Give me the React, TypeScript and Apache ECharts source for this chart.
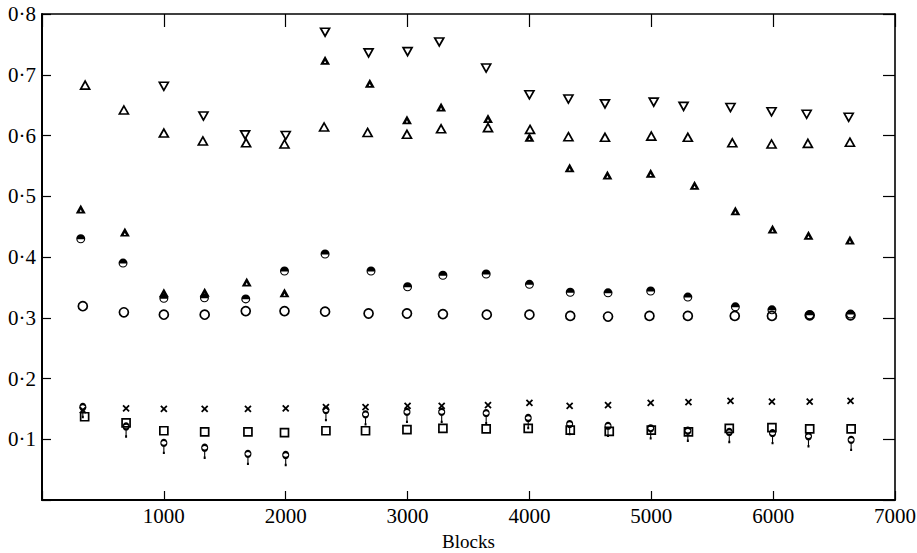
import React, { useEffect, useRef } from "react";
import * as echarts from "echarts";

// ---- data ----
const xTickValues = [1000, 2000, 3000, 4000, 5000, 6000, 7000];
const yTickValues = [0.1, 0.2, 0.3, 0.4, 0.5, 0.6, 0.7, 0.8];

const downTriX = [1000, 1325, 1667, 2000, 2323, 2680, 3000, 3260, 3645, 4000, 4320, 4620, 5020, 5265, 5650, 5987, 6275, 6620];
const downTriY = [0.681, 0.632, 0.601, 0.600, 0.770, 0.736, 0.738, 0.754, 0.711, 0.667, 0.660, 0.652, 0.655, 0.648, 0.646, 0.639, 0.635, 0.630];

const upTriX = [354, 672, 1000, 1320, 1675, 1990, 2315, 2672, 2995, 3275, 3660, 4005, 4320, 4620, 5000, 5300, 5665, 5987, 6285, 6630];
const upTriY = [0.683, 0.642, 0.604, 0.591, 0.588, 0.586, 0.614, 0.605, 0.602, 0.611, 0.613, 0.610, 0.598, 0.597, 0.599, 0.597, 0.588, 0.586, 0.587, 0.589];

const halfTriX = [318, 680, 1000, 1335, 1680, 1990, 2323, 2690, 2995, 3275, 3660, 4000, 4330, 4640, 4995, 5355, 5690, 5995, 6290, 6630];
const halfTriY = [0.479, 0.441, 0.341, 0.342, 0.359, 0.341, 0.724, 0.686, 0.626, 0.647, 0.628, 0.597, 0.547, 0.535, 0.538, 0.518, 0.476, 0.446, 0.436, 0.428];

const halfCircX = [318, 665, 1000, 1333, 1672, 1990, 2323, 2700, 3000, 3290, 3645, 4000, 4335, 4645, 4995, 5300, 5690, 5990, 6300, 6635];
const halfCircY = [0.430, 0.390, 0.332, 0.333, 0.331, 0.377, 0.405, 0.377, 0.351, 0.370, 0.372, 0.355, 0.342, 0.341, 0.344, 0.334, 0.318, 0.313, 0.305, 0.306];

const openCircX = [335, 672, 1000, 1335, 1672, 1990, 2323, 2680, 2995, 3290, 3650, 4000, 4335, 4645, 4985, 5300, 5685, 5990, 6300, 6635];
const openCircY = [0.319, 0.309, 0.305, 0.305, 0.311, 0.311, 0.310, 0.307, 0.307, 0.306, 0.305, 0.305, 0.303, 0.302, 0.303, 0.303, 0.303, 0.303, 0.304, 0.304];

const crossX = [335, 690, 1000, 1335, 1690, 2000, 2330, 2655, 3000, 3280, 3660, 4000, 4330, 4645, 4995, 5305, 5650, 5990, 6300, 6635];
const crossY = [0.148, 0.151, 0.150, 0.150, 0.150, 0.151, 0.153, 0.153, 0.155, 0.155, 0.156, 0.160, 0.155, 0.156, 0.160, 0.161, 0.163, 0.162, 0.162, 0.163];

const squareX = [350, 690, 1000, 1335, 1690, 1990, 2330, 2655, 2995, 3290, 3645, 3990, 4335, 4655, 5000, 5305, 5640, 5990, 6300, 6640];
const squareY = [0.137, 0.127, 0.114, 0.112, 0.112, 0.111, 0.114, 0.114, 0.116, 0.118, 0.117, 0.118, 0.115, 0.113, 0.115, 0.112, 0.118, 0.119, 0.117, 0.117];

const pinX = [335, 690, 1000, 1335, 1690, 2000, 2330, 2655, 2995, 3280, 3645, 3990, 4330, 4645, 4995, 5300, 5640, 5995, 6290, 6640];
const pinY = [0.153, 0.121, 0.094, 0.086, 0.076, 0.074, 0.148, 0.141, 0.145, 0.145, 0.143, 0.135, 0.125, 0.122, 0.118, 0.114, 0.112, 0.110, 0.105, 0.099];

// ---- helpers ----
const pairs = (xs: number[], ys: number[]) => xs.map((x, i) => [x, ys[i]]);

const FONT = "Liberation Serif, Times New Roman, serif";
const BLACK = "#000";

const HALF_TRI = "path://M0,10L5,0L10,10Z M5,5.6L3.9,8.1L6.1,8.1Z";
const HALF_CIRC =
  "path://M0,5A5,5 0 1 1 10,5A5,5 0 1 1 0,5Z M8.75,5.5L1.25,5.5A3.78,3.78 0 0 0 8.75,5.5Z";
const CROSS = "path://M0,0L10,10M10,0L0,10";
const PIN = "path://M2,4A3,3 0 1 1 8,4A3,3 0 1 1 2,4Z M5,7L5,14 M4,14L6,14";

const openStyle = { color: "rgba(0,0,0,0)", borderColor: BLACK, borderWidth: 1.7, opacity: 1 };

export default function App() {
  const ref = useRef<HTMLDivElement>(null);

  useEffect(() => {
    if (!ref.current) return;
    const chart = echarts.init(ref.current, undefined, { renderer: "svg" });

    const yFmt = (v: number) => {
      const r = Math.round(v * 10) / 10;
      if (!yTickValues.includes(r)) return "";
      return r.toFixed(1).replace(".", "·");
    };
    const xFmt = (v: number) => (xTickValues.includes(v) ? String(v) : "");

    const option: any = {
      animation: false,
      backgroundColor: "#fff",
      grid: {
        left: 42,
        right: 22,
        top: 14,
        bottom: 53,
        containLabel: false,
        outerBoundsMode: "none",
      },
      xAxis: [
        {
          type: "value",
          position: "bottom",
          min: 0,
          max: 7000,
          interval: 1000,
          splitLine: { show: false },
          axisLine: { onZero: false, lineStyle: { color: BLACK, width: 2 } },
          axisTick: { inside: true, length: 9, lineStyle: { color: BLACK, width: 1.2 } },
          axisLabel: {
            formatter: xFmt,
            color: BLACK,
            fontFamily: FONT,
            fontSize: 21,
            margin: 5,
            showMaxLabel: true,
          },
          name: "Blocks",
          nameLocation: "middle",
          nameGap: 32,
          nameTextStyle: { color: BLACK, fontFamily: FONT, fontSize: 19 },
        },
        {
          type: "value",
          position: "top",
          min: 0,
          max: 7000,
          interval: 1000,
          splitLine: { show: false },
          axisLine: { onZero: false, lineStyle: { color: BLACK, width: 1.6 } },
          axisTick: { inside: true, length: 13, lineStyle: { color: BLACK, width: 1.2 } },
          axisLabel: { show: false },
        },
      ],
      yAxis: [
        {
          type: "value",
          position: "left",
          min: 0,
          max: 0.8,
          interval: 0.1,
          splitLine: { show: false },
          axisLine: { onZero: false, lineStyle: { color: BLACK, width: 2 } },
          axisTick: { inside: true, length: 9, lineStyle: { color: BLACK, width: 1.2 } },
          axisLabel: {
            formatter: yFmt,
            color: BLACK,
            fontFamily: FONT,
            fontSize: 21,
            margin: 6,
            showMaxLabel: true,
          },
        },
        {
          type: "value",
          position: "right",
          min: 0,
          max: 0.8,
          interval: 0.1,
          splitLine: { show: false },
          axisLine: { onZero: false, lineStyle: { color: BLACK, width: 1.6 } },
          axisTick: { inside: true, length: 12, lineStyle: { color: BLACK, width: 1.2 } },
          axisLabel: { show: false },
        },
      ],
      series: [
        {
          name: "open circle",
          type: "scatter",
          data: pairs(openCircX, openCircY),
          symbol: "circle",
          symbolSize: 9,
          itemStyle: openStyle,
        },
        {
          name: "square",
          type: "scatter",
          data: pairs(squareX, squareY),
          symbol: "rect",
          symbolSize: 8,
          itemStyle: openStyle,
        },
        {
          name: "down triangle",
          type: "scatter",
          data: pairs(downTriX, downTriY),
          symbol: "triangle",
          symbolRotate: 180,
          symbolSize: [9, 8],
          itemStyle: openStyle,
        },
        {
          name: "up triangle",
          type: "scatter",
          data: pairs(upTriX, upTriY),
          symbol: "triangle",
          symbolSize: [9, 8],
          itemStyle: openStyle,
        },
        {
          name: "half triangle",
          type: "scatter",
          data: pairs(halfTriX, halfTriY),
          symbol: HALF_TRI,
          symbolSize: [10, 9],
          itemStyle: { color: BLACK, borderWidth: 0, opacity: 1 },
        },
        {
          name: "half circle",
          type: "scatter",
          data: pairs(halfCircX, halfCircY),
          symbol: HALF_CIRC,
          symbolSize: 9,
          itemStyle: { color: BLACK, borderWidth: 0, opacity: 1 },
        },
        {
          name: "cross",
          type: "scatter",
          data: pairs(crossX, crossY),
          symbol: CROSS,
          symbolSize: 6,
          itemStyle: { color: "rgba(0,0,0,0)", borderColor: BLACK, borderWidth: 1.8, opacity: 1 },
        },
        {
          name: "pin",
          type: "scatter",
          data: pairs(pinX, pinY),
          symbol: PIN,
          symbolSize: [6, 13],
          symbolOffset: [0, 3.5],
          itemStyle: { color: "rgba(0,0,0,0)", borderColor: BLACK, borderWidth: 1.6, opacity: 1 },
        },
      ],
    };

    chart.setOption(option);
    return () => chart.dispose();
  }, []);

  return (
    <div
      ref={ref}
      style={{ position: "fixed", left: 0, top: 0, width: 917, height: 553, background: "#fff" }}
    />
  );
}
